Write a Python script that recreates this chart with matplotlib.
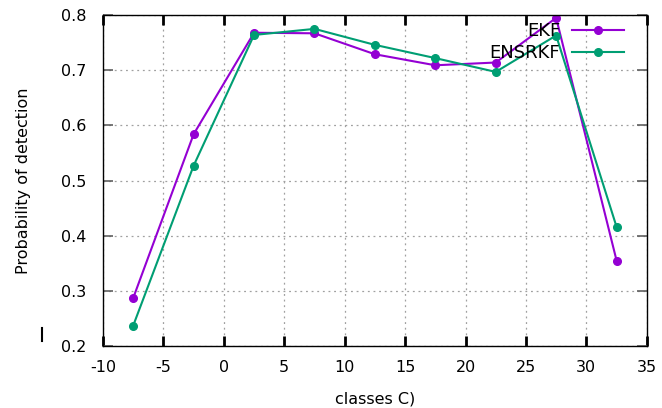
import matplotlib.pyplot as plt
from matplotlib.lines import Line2D

classes = [-7.5, -2.5, 2.5, 7.5, 12.5, 17.5, 22.5, 27.5, 32.5]
ekf = [0.287, 0.584, 0.768, 0.767, 0.729, 0.709, 0.714, 0.795, 0.355]
ensrkf = [0.237, 0.527, 0.764, 0.775, 0.746, 0.722, 0.697, 0.763, 0.416]

xticks = [-10, -5, 0, 5, 10, 15, 20, 25, 30, 35]
yticks = [0.2, 0.3, 0.4, 0.5, 0.6, 0.7, 0.8]

plt.rcParams['font.family'] = 'DejaVu Sans'
fig = plt.figure(figsize=(6.62, 4.08), dpi=100)
ax = fig.add_axes([0.1556, 0.152, 0.8214, 0.811])

ax.plot(classes, ekf, color='#9400d3', lw=1.5, marker='o', ms=5.5, label='EKF')
ax.plot(classes, ensrkf, color='#009e73', lw=1.5, marker='o', ms=5.5, label='ENSRKF')

ax.set_xlim(-10, 35)
ax.set_ylim(0.2, 0.8)
ax.set_xticks(xticks)
ax.set_yticks(yticks)
ax.set_xticklabels([str(t) for t in xticks])
ax.set_yticklabels(['%.1f' % t for t in yticks])
ax.tick_params(axis='x', direction='in', length=7, width=2, top=True,
               labelsize=11.5, pad=10)
ax.tick_params(axis='y', direction='in', length=7, width=1.2, right=True,
               color='#606060', labelsize=11.5, pad=12)
ax.grid(True, color='#a0a0a0', linestyle=(0, (1.5, 3)), linewidth=0.9)
for s in ax.spines.values():
    s.set_linewidth(1.0)

ax.set_xlabel('classes C)', fontsize=11.5, labelpad=12)
ax.set_ylabel('Probability of detection', fontsize=11.5, labelpad=21.5)

leg = ax.legend(loc='upper right', frameon=False, fontsize=13, markerfirst=False,
                handlelength=2.9, handletextpad=0.65, borderaxespad=0.0,
                labelspacing=0.2, bbox_to_anchor=(0.972, 1.0))
for t in leg.get_texts():
    t.set_ha('right')

fig.add_artist(Line2D([0.064, 0.064], [0.165, 0.195], color='black', lw=1.5))

fig.savefig('out.png', dpi=100)
